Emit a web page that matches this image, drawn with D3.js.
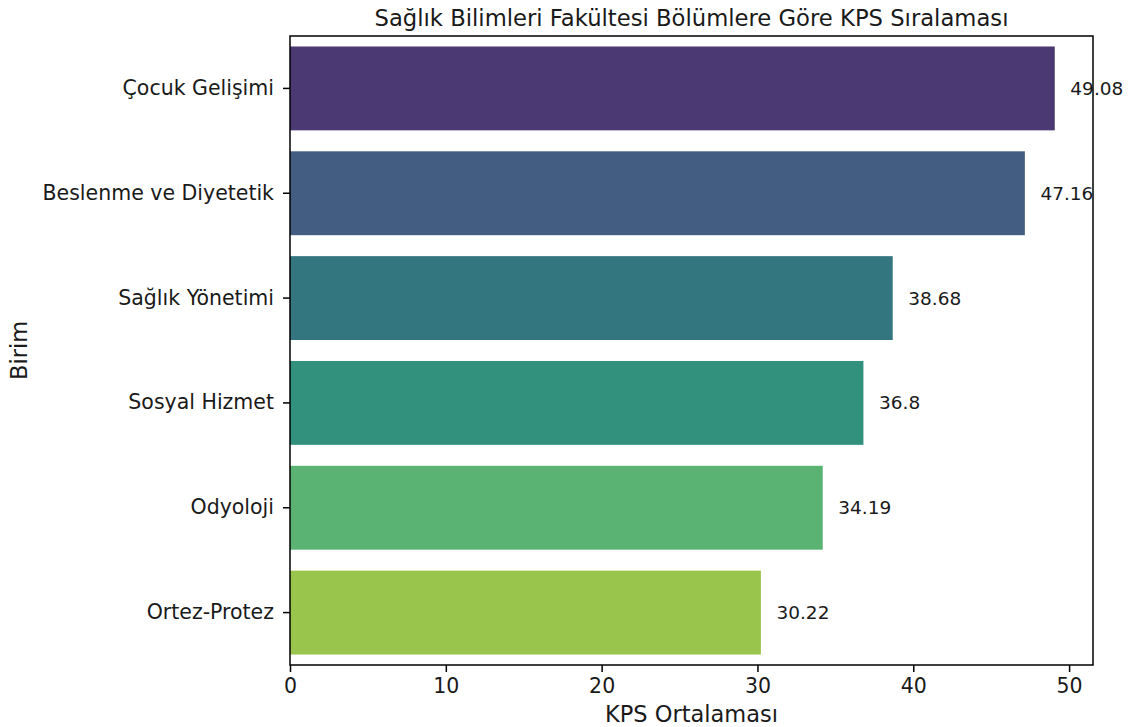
<!DOCTYPE html>
<html>
<head>
<meta charset="utf-8">
<script src="https://cdn.jsdelivr.net/npm/d3@7"></script>
<style>
  body { margin: 0; background: #fff; }
  svg text { font-family: "DejaVu Sans", sans-serif; fill: #1a1a1a; }
</style>
</head>
<body>
<svg id="chart" width="1135" height="727"></svg>
<script>
const categories = ["Çocuk Gelişimi", "Beslenme ve Diyetetik", "Sağlık Yönetimi", "Sosyal Hizmet", "Odyoloji", "Ortez-Protez"];
const values = [49.08, 47.16, 38.68, 36.8, 34.19, 30.22];
const colors = ["#4b3973", "#425d81", "#34767f", "#32917d", "#5bb373", "#9ac54c"];
const xTicks = [0, 10, 20, 30, 40, 50];
const titleText = "Sağlık Bilimleri Fakültesi Bölümlere Göre KPS Sıralaması";
const xLabel = "KPS Ortalaması";
const yLabel = "Birim";

const svg = d3.select("#chart");
const m = { left: 290, right: 1093, top: 36, bottom: 665 };

const x = d3.scaleLinear().domain([0, d3.max(values) * 1.05]).range([m.left, m.right]);
const y = d3.scaleBand().domain(categories).range([m.top, m.bottom]).paddingInner(0.2).paddingOuter(0.1);

svg.selectAll("rect.bar").data(categories).enter().append("rect")
  .attr("class", "bar")
  .attr("x", x(0))
  .attr("y", d => y(d))
  .attr("width", (d, i) => x(values[i]) - x(0))
  .attr("height", y.bandwidth())
  .attr("fill", (d, i) => colors[i]);

svg.selectAll("text.val").data(categories).enter().append("text")
  .attr("class", "val")
  .attr("x", (d, i) => x(values[i] + 1))
  .attr("y", d => y(d) + y.bandwidth() / 2)
  .attr("dy", "0.35em")
  .style("font-size", "18.5px")
  .text((d, i) => String(values[i]));

// frame
svg.append("rect").attr("x", m.left).attr("y", m.top)
  .attr("width", m.right - m.left).attr("height", m.bottom - m.top)
  .attr("fill", "none").attr("stroke", "#000").attr("stroke-width", 1.5);

const xAxis = svg.append("g").attr("transform", `translate(0,${m.bottom})`)
  .call(d3.axisBottom(x).tickValues(xTicks).tickSize(7).tickPadding(6).tickFormat(d3.format("d")));
xAxis.select(".domain").remove();
xAxis.selectAll("line").attr("stroke", "#000").attr("stroke-width", 1.5);
xAxis.selectAll("text").style("font-size", "20.5px").attr("fill", "#1a1a1a");

const yAxis = svg.append("g").attr("transform", `translate(${m.left},0)`)
  .call(d3.axisLeft(y).tickSize(7).tickPadding(9));
yAxis.select(".domain").remove();
yAxis.selectAll("line").attr("stroke", "#000").attr("stroke-width", 1.5);
yAxis.selectAll("text").style("font-size", "20.5px").attr("fill", "#1a1a1a");

svg.append("text").attr("x", (m.left + m.right) / 2).attr("y", 26)
  .attr("text-anchor", "middle").style("font-size", "22.7px").text(titleText);

svg.append("text").attr("x", (m.left + m.right) / 2).attr("y", 722)
  .attr("text-anchor", "middle").style("font-size", "22.5px").text(xLabel);

svg.append("text").attr("transform", `translate(27,${(m.top + m.bottom) / 2}) rotate(-90)`)
  .attr("text-anchor", "middle").style("font-size", "22.5px").text(yLabel);
</script>
</body>
</html>
